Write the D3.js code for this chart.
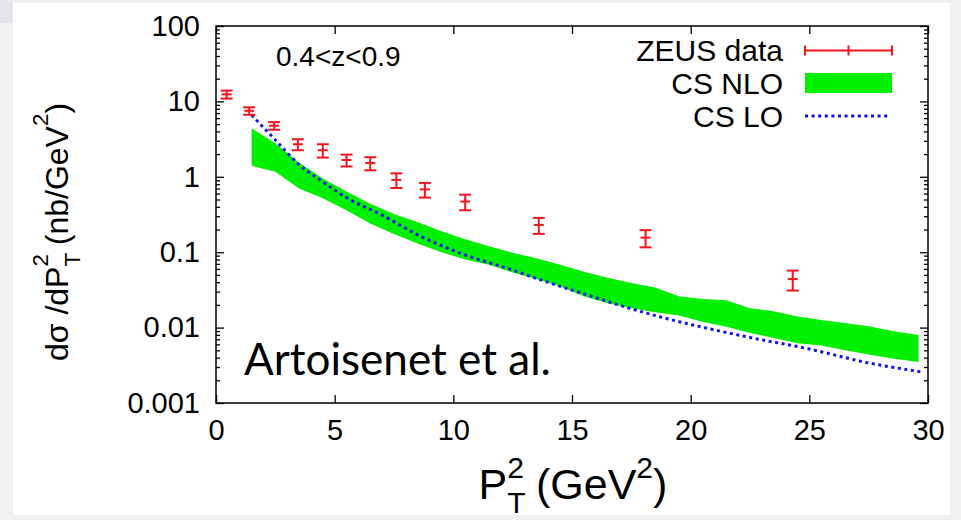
<!DOCTYPE html>
<html>
<head>
<meta charset="utf-8">
<script src="https://cdn.jsdelivr.net/npm/d3@7"></script>
<style>
  body { margin: 0; background: #eef0f2; }
  svg { display: block; font-family: 'Liberation Sans', Arial, sans-serif; }
</style>
</head>
<body>
<div id="chart"></div>
<script>
// ZEUS data points
const zeusX = [0.45, 1.4, 2.45, 3.45, 4.5, 5.5, 6.5, 7.6, 8.8, 10.5, 13.6, 18.1, 24.3];
const zeusY = [12.4, 7.5, 4.76, 2.7, 2.25, 1.67, 1.52, 0.91, 0.68, 0.47, 0.23, 0.156, 0.044];
const zeusErr = [1.5, 0.85, 0.55, 0.45, 0.45, 0.3, 0.3, 0.2, 0.15, 0.11, 0.055, 0.04, 0.013];

// CS NLO band (upper / lower edge)
const nloX = [1.5, 2.5, 3.5, 4.5, 5.5, 6.5, 7.5, 8.5, 9.5, 10.5, 11.5, 12.5, 13.5, 14.5, 15.5,
  16.5, 17.5, 18.5, 19.5, 20.5, 21.5, 22.5, 23.5, 24.5, 25.5, 26.5, 27.5, 28.5, 29.6];
const nloHi = [4.4, 2.78, 1.54, 0.95, 0.64, 0.44, 0.32, 0.25, 0.19, 0.148, 0.12, 0.098, 0.083, 0.068, 0.055,
  0.046, 0.039, 0.034, 0.026, 0.024, 0.023, 0.018, 0.0165, 0.014, 0.0126, 0.0115, 0.0104, 0.009, 0.008];
const nloLo = [1.4, 1.17, 0.7, 0.52, 0.36, 0.24, 0.175, 0.13, 0.1, 0.08, 0.068, 0.054, 0.044, 0.035, 0.026,
  0.021, 0.018, 0.016, 0.0145, 0.012, 0.0103, 0.0085, 0.0073, 0.0062, 0.0058, 0.005, 0.0044, 0.0039, 0.0035];

// CS LO curve
const loX = [1.5, 2.5, 3.5, 4.5, 5.5, 7.0, 8.5, 10.5, 12.5, 13.5, 15.5, 18, 20, 22.5, 25, 27.5, 29.7];
const loY = [6.6, 3.08, 1.45, 0.86, 0.53, 0.31, 0.17, 0.092, 0.058, 0.045, 0.028, 0.016, 0.011, 0.0074, 0.0052, 0.0034, 0.0026];

// axes
const xTicks = [0, 5, 10, 15, 20, 25, 30];
const yTicks = [0.001, 0.01, 0.1, 1, 10, 100];
const yTickLabels = ['0.001', '0.01', '0.1', '1', '10', '100'];

const legendLabels = ['ZEUS data', 'CS NLO', 'CS LO'];

const width = 961;
const height = 520;
const plot = {left: 216, right: 928, top: 26, bottom: 403};

const red = '#f0141e';
const green = '#00f000';
const blue = '#1010f5';

const svg = d3.select('#chart')
  .append('svg')
  .attr('width', width)
  .attr('height', height);

// slide background
svg.append('rect').attr('width', width).attr('height', height).attr('fill', '#eef0f2');
svg.append('rect').attr('width', 13).attr('height', 23).attr('fill', '#e3e5e8');
svg.append('rect')
  .attr('x', 13).attr('y', 3)
  .attr('width', 937).attr('height', 512)
  .attr('fill', '#fff');

const x = d3.scaleLinear().domain([0, 30]).range([plot.left, plot.right]);
const y = d3.scaleLog().domain([0.001, 100]).range([plot.bottom, plot.top]);

const minors = y.ticks().filter(d => Math.abs(Math.log10(d) - Math.round(Math.log10(d))) > 1e-6);

// NLO band
const nlo = nloX.map((d, i) => ({x: d, hi: nloHi[i], lo: nloLo[i]}));
svg.append('path')
  .datum(nlo)
  .attr('fill', green)
  .attr('d', d3.area().x(d => x(d.x)).y0(d => y(d.lo)).y1(d => y(d.hi)));

// LO curve
const lo = loX.map((d, i) => ({x: d, y: loY[i]}));
svg.append('path')
  .datum(lo)
  .attr('fill', 'none')
  .attr('stroke', blue)
  .attr('stroke-width', 3)
  .attr('stroke-dasharray', '3,3.6')
  .attr('d', d3.line().curve(d3.curveMonotoneX).x(d => x(d.x)).y(d => y(d.y)));

// ZEUS error bars
const zeus = zeusX.map((d, i) => ({x: d, y: zeusY[i], e: zeusErr[i]}));
const bars = svg.append('g')
  .attr('stroke', red)
  .attr('stroke-width', 2)
  .selectAll('g')
  .data(zeus)
  .join('g');
bars.append('line')
  .attr('x1', d => x(d.x)).attr('x2', d => x(d.x))
  .attr('y1', d => y(d.y - d.e)).attr('y2', d => y(d.y + d.e));
[d => d.y - d.e, d => d.y + d.e, d => d.y].forEach((f, k) => {
  const hw = k === 2 ? 5 : 6;
  bars.append('line')
    .attr('x1', d => x(d.x) - hw).attr('x2', d => x(d.x) + hw)
    .attr('y1', d => y(f(d))).attr('y2', d => y(f(d)));
});

// axes, ticks pointing inward
const tickFont = g => g.selectAll('text')
  .attr('font-size', 29)
  .attr('font-family', "'Liberation Sans', Arial, sans-serif")
  .attr('fill', '#000');
const clean = g => { g.select('.domain').remove(); g.selectAll('line').attr('stroke', '#000').attr('stroke-width', 1.3); };

svg.append('g')
  .attr('transform', `translate(${plot.left},0)`)
  .call(d3.axisLeft(y).tickValues(yTicks).tickSize(-8).tickPadding(16).tickFormat((d, i) => yTickLabels[i]))
  .call(clean).call(tickFont);
svg.append('g')
  .attr('transform', `translate(${plot.left},0)`)
  .call(d3.axisLeft(y).tickValues(minors).tickSize(-4).tickFormat(''))
  .call(clean);
svg.append('g')
  .attr('transform', `translate(${plot.right},0)`)
  .call(d3.axisRight(y).tickValues(yTicks).tickSize(-8).tickFormat(''))
  .call(clean);
svg.append('g')
  .attr('transform', `translate(${plot.right},0)`)
  .call(d3.axisRight(y).tickValues(minors).tickSize(-4).tickFormat(''))
  .call(clean);
svg.append('g')
  .attr('transform', `translate(0,${plot.bottom})`)
  .call(d3.axisBottom(x).tickValues(xTicks).tickSize(-8).tickPadding(16))
  .call(clean).call(tickFont);
svg.append('g')
  .attr('transform', `translate(0,${plot.top})`)
  .call(d3.axisTop(x).tickValues(xTicks).tickSize(-8).tickFormat(''))
  .call(clean);

svg.append('rect')
  .attr('x', plot.left).attr('y', plot.top)
  .attr('width', plot.right - plot.left).attr('height', plot.bottom - plot.top)
  .attr('fill', 'none')
  .attr('stroke', '#000')
  .attr('stroke-width', 1.5);

// text with sub/superscripts; parts: {t, sub, sup, stack}
function richText(g, parts, size, subShift, supShift) {
  const text = g.append('text').attr('font-size', size).attr('fill', '#000');
  let cur = 0;
  let prev = null;
  parts.forEach(p => {
    const target = p.sub ? size * subShift : p.sup ? -size * supShift : 0;
    const ts = text.append('tspan')
      .attr('dy', target - cur)
      .attr('font-size', p.sub || p.sup ? size * 0.7 : size)
      .text(p.t);
    if (p.stack && prev) ts.attr('dx', -prev.node().getComputedTextLength());
    cur = target;
    prev = ts;
  });
  const bb = text.node().getBBox();
  text.attr('x', -bb.width / 2);
  return text;
}

// y title
richText(svg.append('g').attr('transform', 'translate(68,232) rotate(-90)'), [
  {t: 'dσ /dP'}, {t: 'T', sub: true}, {t: '2', sup: true, stack: true},
  {t: ' (nb/GeV'}, {t: '2', sup: true}, {t: ')'}
], 32, 0.38, 0.62);

// x title
richText(svg.append('g').attr('transform', 'translate(573,499)'), [
  {t: 'P'}, {t: 'T', sub: true}, {t: '2', sup: true, stack: true},
  {t: ' (GeV'}, {t: '2', sup: true}, {t: ')'}
], 43, 0.32, 0.5);

svg.append('text')
  .attr('x', 276).attr('y', 66)
  .attr('font-size', 28)
  .text('0.4<z<0.9');

svg.append('text')
  .attr('x', 244).attr('y', 375)
  .attr('font-family', 'Lato, sans-serif')
  .attr('font-size', 44)
  .attr('textLength', 307)
  .attr('lengthAdjust', 'spacingAndGlyphs')
  .text('Artoisenet et al.');

// legend
const legend = svg.append('g');
legend.selectAll('text')
  .data(legendLabels)
  .join('text')
  .attr('x', 783)
  .attr('y', (d, i) => 61 + i * 33)
  .attr('text-anchor', 'end')
  .attr('font-size', 30)
  .text(d => d);

const lx0 = 805;
const lx1 = 892;
const lg = legend.append('g').attr('stroke', red).attr('stroke-width', 2);
lg.append('line').attr('x1', lx0).attr('x2', lx1).attr('y1', 50.5).attr('y2', 50.5);
[lx0, (lx0 + lx1) / 2, lx1].forEach(v => {
  lg.append('line').attr('x1', v).attr('x2', v).attr('y1', 45.5).attr('y2', 55.5);
});
legend.append('rect')
  .attr('x', lx0).attr('y', 73)
  .attr('width', lx1 - lx0).attr('height', 20)
  .attr('fill', green);
legend.append('line')
  .attr('x1', lx0).attr('x2', lx1 - 2)
  .attr('y1', 116).attr('y2', 116)
  .attr('stroke', blue)
  .attr('stroke-width', 3)
  .attr('stroke-dasharray', '3,3.6');
</script>
</body>
</html>
